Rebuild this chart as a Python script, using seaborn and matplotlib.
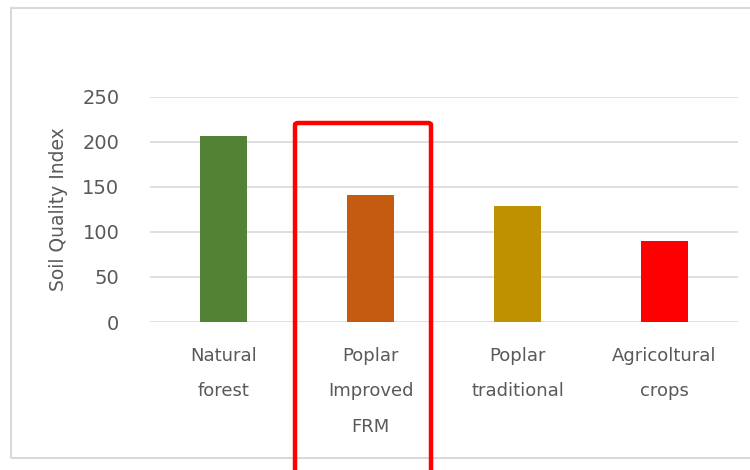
import matplotlib
matplotlib.use("Agg")
import matplotlib.pyplot as plt
import seaborn as sns
import pandas as pd
from matplotlib.patches import Rectangle, FancyBboxPatch

categories = ["Natural\nforest", "Poplar\nImproved\nFRM", "Poplar\ntraditional", "Agricoltural\ncrops"]
values = [207, 141, 129, 90]
colors = ["#548235", "#C55A11", "#BF9000", "#FF0000"]
yticks = [0, 50, 100, 150, 200, 250]

sns.set_theme(style="white")
plt.rcParams['font.family'] = ['DejaVu Sans']

df = pd.DataFrame({"cat": categories, "val": values})

fig = plt.figure(figsize=(7.5, 4.7), dpi=100)
ax = fig.add_axes([150/750, (470-322)/470, 588/750, 225/470])

sns.barplot(data=df, x="cat", y="val", hue="cat", palette=colors, legend=False,
            width=0.32, ax=ax, saturation=1, linewidth=0)

ax.set_ylim(0, 250)
ax.set_yticks(yticks)
ax.yaxis.grid(True, color="#d9d9d9", lw=1.2)
ax.set_axisbelow(True)
for s in ax.spines.values():
    s.set_visible(False)
ax.set_xlabel("")
ax.set_ylabel("Soil Quality Index", color="#595959", fontsize=13.5, labelpad=10)
ax.tick_params(axis="y", length=0, pad=22, labelcolor="#595959", labelsize=14)
ax.tick_params(axis="x", length=0, pad=18, labelcolor="#595959", labelsize=13)
for t in ax.get_xticklabels():
    t.set_linespacing(2.25)
    t.set_verticalalignment("top")

# outer chart border
fig.patches.append(Rectangle((11/750, (470-458)/470), 760/750, 450/470,
                             transform=fig.transFigure, fill=False,
                             edgecolor="#d9d9d9", lw=1.5))

# red highlight box
fig.patches.append(FancyBboxPatch((295/750, -20/470), 136/750, (470-123+20)/470,
                                  boxstyle="round,pad=0,rounding_size=0.004",
                                  transform=fig.transFigure, fill=False,
                                  edgecolor="#FF0000", lw=3.2, zorder=10))

fig.savefig("out.png", dpi=100, facecolor="white")
